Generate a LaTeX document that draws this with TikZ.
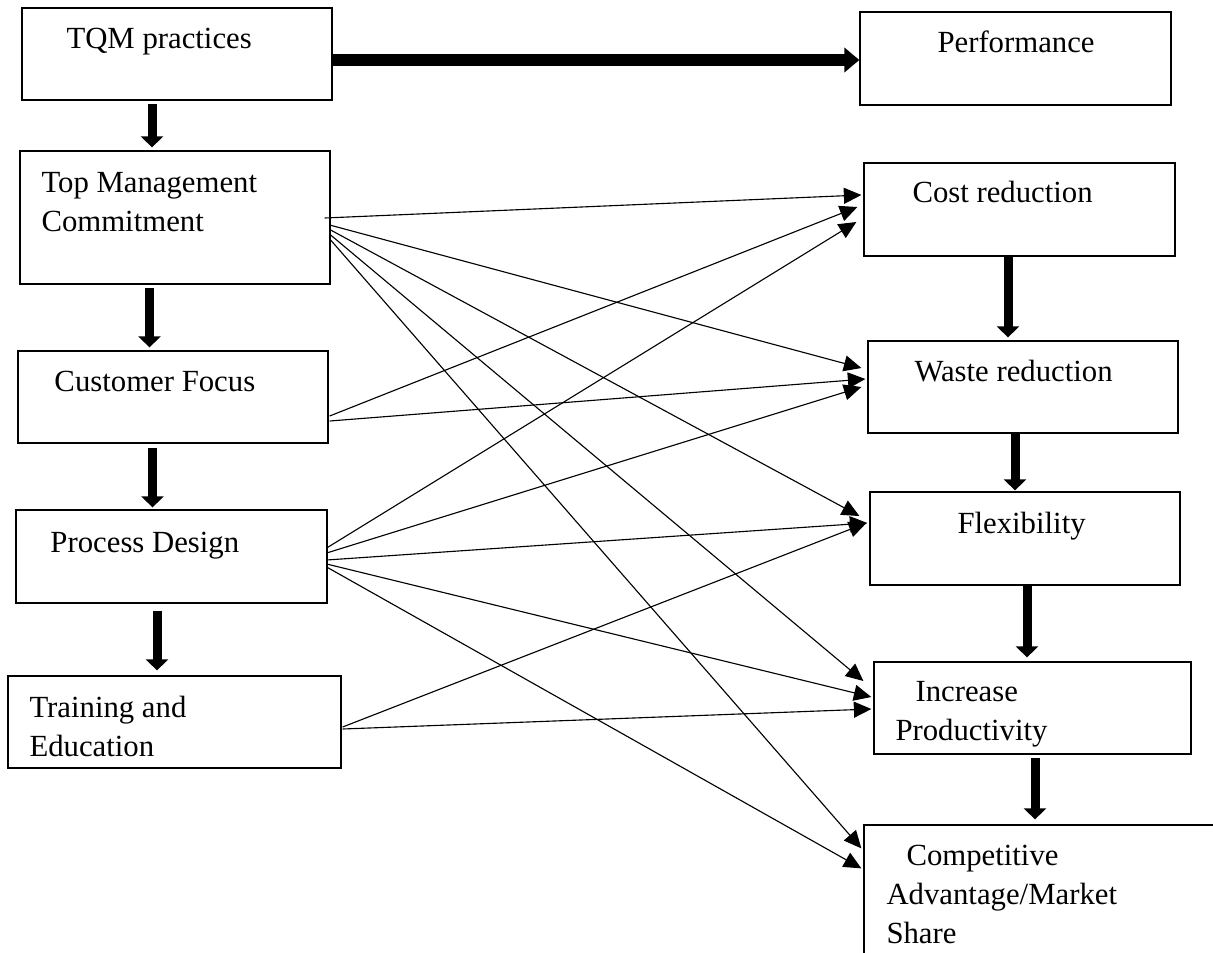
\documentclass[tikz,border=0pt]{standalone}
\usepackage{fontspec}
\setmainfont{Liberation Serif}
\usetikzlibrary{arrows.meta,calc}
\tikzset{
  box/.style 2 args={draw, line width=0.5pt, rectangle, inner sep=0pt,
    minimum width=#1*0.4pt, minimum height=#2*0.4pt},
  txt/.style={anchor=base west, inner sep=0pt, align=left,
    font=\fontsize{12.3}{15.6}\selectfont},
  link/.style={line width=0.45pt, -{Triangle[length=7pt,width=6.4pt]}},
  bigdown/.style={line width=3.6pt, -{Triangle[length=4.4pt,width=8.8pt]}},
  bigright/.style={line width=5pt, -{Triangle[length=6pt,width=9.6pt]}},
}
\begin{document}
\begin{tikzpicture}[x=0.4pt,y=-0.4pt]
  \clip (0,0) rectangle (1213,953);
  % left column
  \node[box={310}{92}] (tqm) at (177,54) {};
  \node[box={310}{133}] (tmc) at (175,217.5) {};
  \node[box={310}{92}] (cf) at (173,397) {};
  \node[box={311}{93}] (pd) at (171.5,556.5) {};
  \node[box={333}{92}] (te) at (174.5,722) {};
  % right column
  \node[box={311}{93}] (perf) at (1015.5,58.5) {};
  \node[box={311}{93}] (cost) at (1019.5,209.5) {};
  \node[box={310}{92}] (waste) at (1023,387) {};
  \node[box={310}{93}] (flex) at (1025,538.5) {};
  \node[box={317}{92}] (incr) at (1032.5,708) {};
  \node[box={366}{135}] (comp) at (1047,892.5) {};
  % texts (base = last line)
  \node[txt] (tqm-t) at (66,48) {TQM practices};
  \node[txt] (tmc-t) at (41,231) {Top Management\\Commitment};
  \node[txt] (cf-t) at (54,391) {Customer Focus};
  \node[txt] (pd-t) at (50,552) {Process Design};
  \node[txt] (te-t) at (29,756) {Training and\\Education};
  \node[txt] (perf-t) at (937,52) {Performance};
  \node[txt] (cost-t) at (912,202) {Cost reduction};
  \node[txt] (waste-t) at (914,381) {Waste reduction};
  \node[txt] (flex-t) at (957,533) {Flexibility};
  \begin{scope}
    \clip (incr.north west) rectangle (incr.south east);
    \node[txt] (incr-t) at (895,740) {\hspace*{20\dimexpr0.4pt\relax}Increase\\Productivity};
  \end{scope}
  \node[txt] (comp-t) at (886,943) {\hspace*{20\dimexpr0.4pt\relax}Competitive\\Advantage/Market\\Share};
  % thick arrows
  \draw[bigright] ($(tqm.east)+(0,6)$) -- ($(perf.west)+(0,1.5)$);
  \draw[bigdown] ($(tqm.south)+(-25,3)$) -- ($(tmc.north)+(-23,-3)$);
  \draw[bigdown] ($(tmc.south)+(-25.5,3)$) -- ($(cf.north)+(-23.5,-3)$);
  \draw[bigdown] ($(cf.south)+(-20.5,4)$) -- ($(pd.north)+(-19,-2)$);
  \draw[bigdown] ($(pd.south)+(-14.5,7)$) -- ($(te.north)+(-17.5,-5)$);
  \draw[bigdown] ($(cost.south)+(-11.5,0)$) -- ($(waste.north)+(-15,-3)$);
  \draw[bigdown] ($(waste.south)+(-8,0)$) -- ($(flex.north)+(-10,-1)$);
  \draw[bigdown] ($(flex.south)+(2,0)$) -- ($(incr.north)+(-5.5,-4)$);
  \draw[bigdown] ($(incr.south)+(2.5,3)$) -- ($(comp.north)+(-12,-5)$);
  % thin arrows
  \draw[link] ($(tmc.east)+(-6,0.5)$) -- ($(cost.west)+(-2,-14.5)$);
  \draw[link] ($(tmc.east)+(-1,7.5)$) -- ($(waste.west)+(-6,-19)$);
  \draw[link] ($(tmc.east)+(0,12.5)$) -- ($(flex.west)+(-10,-22.5)$);
  \draw[link] ($(tmc.east)+(0,17.5)$) -- ($(incr.west)+(-10,-27)$);
  \draw[link] ($(tmc.east)+(0,22.5)$) -- ($(comp.north west)+(-2,24)$);
  \draw[link] ($(cf.east)+(1,19)$) -- ($(cost.west)+(-6,-2.5)$);
  \draw[link] ($(cf.east)+(1,24)$) -- ($(waste.west)+(-2,-8)$);
  \draw[link] ($(pd.east)+(-1,-8.5)$) -- ($(cost.west)+(-7,12.5)$);
  \draw[link] ($(pd.east)+(-1,-3.5)$) -- ($(waste.west)+(-6,0)$);
  \draw[link] ($(pd.east)+(-1,3.5)$) -- ($(flex.west)+(-2,-15.5)$);
  \draw[link] ($(pd.east)+(-1,7.5)$) -- ($(incr.west)+(-2,-11)$);
  \draw[link] ($(pd.east)+(-1,10.5)$) -- ($(comp.north west)+(-2,44)$);
  \draw[link] ($(te.east)+(1,5)$) -- ($(flex.west)+(-3,-15.5)$);
  \draw[link] ($(te.east)+(1,7)$) -- ($(incr.west)+(-2,1)$);
\end{tikzpicture}
\end{document}
